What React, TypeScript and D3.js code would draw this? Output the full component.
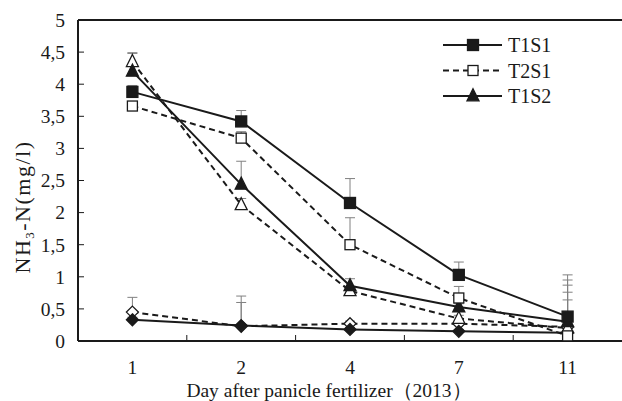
import React from "react";
import * as d3 from "d3";

const days = ["1", "2", "4", "7", "11"];
const yTicks = [0, 0.5, 1, 1.5, 2, 2.5, 3, 3.5, 4, 4.5, 5];

const t1s1 = [3.88, 3.42, 2.15, 1.03, 0.38];
const t1s1Err = [0.1, 0.17, 0.38, 0.2, 0.65];
const t2s1 = [3.66, 3.16, 1.5, 0.67, 0.08];
const t2s1Err = [0.05, 0.1, 0.42, 0.18, 0.87];
const t1s2 = [4.2, 2.44, 0.86, 0.53, 0.3];
const t1s2Err = [0.28, 0.36, 0.11, 0.05, 0.57];
const t2s2 = [4.35, 2.12, 0.78, 0.35, 0.2];
const t2s2Err = [0.14, 0.1, 0.05, 0.05, 0.56];
const d1 = [0.33, 0.24, 0.18, 0.15, 0.13];
const d1Err = [0.04, 0.36, 0.03, 0.03, 0.3];
const d2 = [0.45, 0.23, 0.27, 0.27, 0.22];
const d2Err = [0.23, 0.47, 0.04, 0.04, 0.42];

type Shape = "square" | "triangle" | "diamond";
const seriesList: { name: string | null; vals: number[]; err: number[]; shape: Shape; filled: boolean; dashed: boolean }[] = [
  { name: null, vals: d2, err: d2Err, shape: "diamond", filled: false, dashed: true },
  { name: null, vals: d1, err: d1Err, shape: "diamond", filled: true, dashed: false },
  { name: null, vals: t2s2, err: t2s2Err, shape: "triangle", filled: false, dashed: true },
  { name: "T1S2", vals: t1s2, err: t1s2Err, shape: "triangle", filled: true, dashed: false },
  { name: "T2S1", vals: t2s1, err: t2s1Err, shape: "square", filled: false, dashed: true },
  { name: "T1S1", vals: t1s1, err: t1s1Err, shape: "square", filled: true, dashed: false },
];
const legendOrder = ["T1S1", "T2S1", "T1S2"];

const W = 622, H = 401;
const left = 78, right = 622, top = 20, bottom = 341;
const FONT = "'Liberation Serif', serif";
const INK = "#1a1a1a";

function Marker({ x, y, shape, filled }: { x: number; y: number; shape: Shape; filled: boolean }) {
  const fill = filled ? INK : "#fff";
  if (shape === "square") {
    const s = filled ? 11 : 10;
    return <rect x={x - s / 2} y={y - s / 2} width={s} height={s} fill={fill} stroke={INK} strokeWidth={1.3} />;
  }
  if (shape === "triangle") {
    const s = 12;
    const p = `${x},${y - s * 0.6} ${x + s / 2},${y + s * 0.4} ${x - s / 2},${y + s * 0.4}`;
    return <polygon points={p} fill={fill} stroke={INK} strokeWidth={1.3} />;
  }
  const r = 6;
  const p = `${x},${y - r} ${x + r},${y} ${x},${y + r} ${x - r},${y}`;
  return <polygon points={p} fill={fill} stroke={INK} strokeWidth={1.3} />;
}

export default function App() {
  const x = d3.scaleBand<string>().domain(days).range([left, right]);
  const y = d3.scaleLinear().domain([0, 5]).range([bottom, top]);
  const cx = (d: string) => (x(d) as number) + x.bandwidth() / 2;
  const line = d3
    .line<number>()
    .x((_, i) => cx(days[i]))
    .y((v) => y(v));

  const boundaries = days.slice(1).map((d) => x(d) as number);
  const tStyle = { fontFamily: FONT };

  return (
    <svg width={W} height={H} style={{ position: "absolute", left: 0, top: 0, background: "#fff" }}>
      <rect width={W} height={H} fill="#fff" />
      {seriesList.map((s, si) =>
        s.vals.map((v, i) => {
          const xx = cx(days[i]);
          const y0 = y(v);
          const y1 = y(v + s.err[i]);
          return (
            <g key={`e${si}-${i}`} stroke="#808080" strokeWidth={1}>
              <line x1={xx} x2={xx} y1={y0} y2={y1} />
              <line x1={xx - 5} x2={xx + 5} y1={y1} y2={y1} />
            </g>
          );
        })
      )}
      <line x1={left} x2={left} y1={top} y2={bottom} stroke={INK} strokeWidth={2} />
      <line x1={left} x2={right} y1={bottom} y2={bottom} stroke={INK} strokeWidth={2} />
      <line x1={left} x2={right} y1={top} y2={top} stroke={INK} strokeWidth={2} />
      {yTicks.map((t) => (
        <g key={`yt${t}`}>
          <line x1={left} x2={left + 6} y1={y(t)} y2={y(t)} stroke={INK} strokeWidth={1} />
          <text x={65} y={y(t)} dy="0.35em" textAnchor="end" fontSize={19.5} fill={INK} style={tStyle}>
            {String(t).replace(".", ",")}
          </text>
        </g>
      ))}
      {boundaries.map((b, i) => (
        <line key={`xb${i}`} x1={b} x2={b} y1={bottom} y2={bottom - 6} stroke={INK} strokeWidth={1} />
      ))}
      {days.map((d) => (
        <text key={`xl${d}`} x={cx(d)} y={374} textAnchor="middle" fontSize={19.5} fill={INK} style={tStyle}>
          {d}
        </text>
      ))}
      <text x={329} y={397} textAnchor="middle" fontSize={19.5} fill={INK} style={tStyle}>
        Day after panicle fertilizer（2013）
      </text>
      <text
        transform={`translate(30,207) rotate(-90)`}
        textAnchor="middle"
        fontSize={22}
        letterSpacing={1.5}
        fill={INK}
        style={tStyle}
      >
        NH<tspan fontSize={13} dy={4}>3</tspan>
        <tspan dy={-4}>-N(mg/l)</tspan>
      </text>
      {seriesList.map((s, si) => (
        <path
          key={`l${si}`}
          d={line(s.vals) as string}
          fill="none"
          stroke={INK}
          strokeWidth={2}
          strokeDasharray={s.dashed ? "6,4" : undefined}
        />
      ))}
      {seriesList.map((s, si) =>
        s.vals.map((v, i) => <Marker key={`m${si}-${i}`} x={cx(days[i])} y={y(v)} shape={s.shape} filled={s.filled} />)
      )}
      {legendOrder.map((n, i) => {
        const s = seriesList.find((q) => q.name === n)!;
        const ly = 45 + i * 25.5;
        return (
          <g key={`lg${n}`}>
            <line x1={443} x2={502} y1={ly} y2={ly} stroke={INK} strokeWidth={2} strokeDasharray={s.dashed ? "6,4" : undefined} />
            <Marker x={473} y={ly} shape={s.shape} filled={s.filled} />
            <text x={508} y={ly} dy="0.35em" fontSize={20} fill={INK} style={tStyle}>
              {n}
            </text>
          </g>
        );
      })}
    </svg>
  );
}
